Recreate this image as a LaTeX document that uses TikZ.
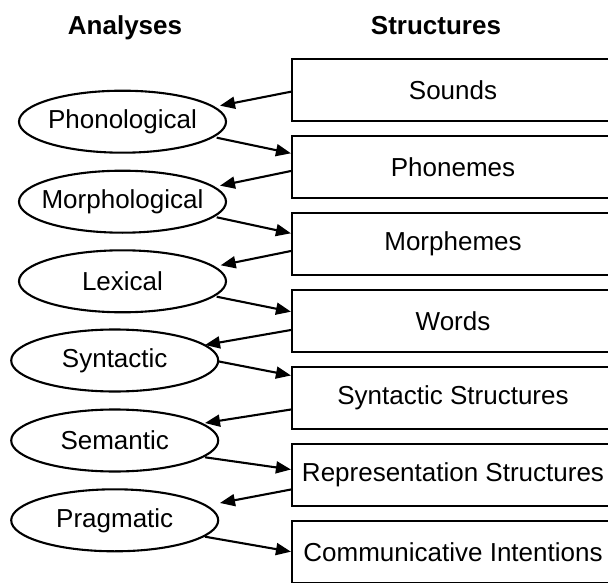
\documentclass[tikz,border=0pt]{standalone}
\usepackage{fontspec}
\setmainfont{Liberation Sans}
\usetikzlibrary{arrows.meta,shapes.geometric}
\newcommand\zerow[1]{\makebox[0pt]{#1}}
\begin{document}
\begin{tikzpicture}[x=1pt,y=-1pt,
  txt/.style={font=\fontsize{26pt}{30pt}\selectfont},
  head/.style={font=\fontsize{26pt}{30pt}\selectfont\bfseries, anchor=base, inner sep=0},
  anal/.style={draw, ellipse, line width=2.1pt, minimum width=207pt, minimum height=62pt, inner sep=0pt, txt},
  struc/.style={draw, rectangle, line width=2.1pt, minimum width=322pt, minimum height=62pt, inner sep=0pt, txt},
  link/.style={line width=2.1pt, -{Triangle[length=15pt,width=12pt]}}]
\clip (0,0) rectangle (608,583);
\fill[white] (0,0) rectangle (608,583);
\node[head] (hA) at (125,35) {Analyses};
\node[head] (hS) at (436,35) {Structures};
% structures
\node[struc] (b0) at (453,90) {Sounds};
\node[struc] (b1) at (453,167) {Phonemes};
\node[struc] (b2) at (453,244) {Morphemes};
\node[struc] (b3) at (453,321) {Words};
\node[struc] (b4) at (453,398) {Syntactic Structures};
\node[struc] (b5) at (453,475) {Representation Structures};
\node[struc] (b6) at (453,552) {Communicative Intentions};
% analyses
\node[anal] (e0) at (122.5,121.7) {\zerow{Phonological}};
\node[anal] (e1) at (122.5,201.7) {\zerow{Morphological}};
\node[anal] (e2) at (122.5,281.3) {\zerow{Lexical}};
\node[anal] (e3) at (114.7,360.5) {\zerow{Syntactic}};
\node[anal] (e4) at (114.7,440.5) {\zerow{Semantic}};
\node[anal] (e5) at (114.7,520.3) {\zerow{Pragmatic}};
% structure -> analysis
\draw[link] ([shift={(0,1.7)}]b0.west) -- ([shift={(97.5,-16)}]e0.center);
\draw[link] ([shift={(0,4)}]b1.west) -- ([shift={(97.5,-16)}]e1.center);
\draw[link] ([shift={(0,7)}]b2.west) -- ([shift={(98.2,-16)}]e2.center);
\draw[link] ([shift={(0,9)}]b3.west) -- ([shift={(90.3,-15.5)}]e3.center);
\draw[link] ([shift={(0,11.5)}]b4.west) -- ([shift={(90.3,-17.5)}]e4.center);
\draw[link] ([shift={(0,14.5)}]b5.west) -- ([shift={(105.3,-17.3)}]e5.center);
% analysis -> next structure
\draw[link] ([shift={(94.2,16)}]e0.center) -- ([shift={(0,-13.7)}]b1.west);
\draw[link] ([shift={(94.2,15.6)}]e1.center) -- ([shift={(0,-10.7)}]b2.west);
\draw[link] ([shift={(94.2,15.4)}]e2.center) -- ([shift={(0,-9.3)}]b3.west);
\draw[link] ([shift={(104.3,1)}]e3.center) -- ([shift={(0,-22.5)}]b4.west);
\draw[link] ([shift={(90.3,16.8)}]e4.center) -- ([shift={(0,-5.5)}]b5.west);
\draw[link] ([shift={(90.3,16.4)}]e5.center) -- ([shift={(0,-0.3)}]b6.west);
\end{tikzpicture}
\end{document}
